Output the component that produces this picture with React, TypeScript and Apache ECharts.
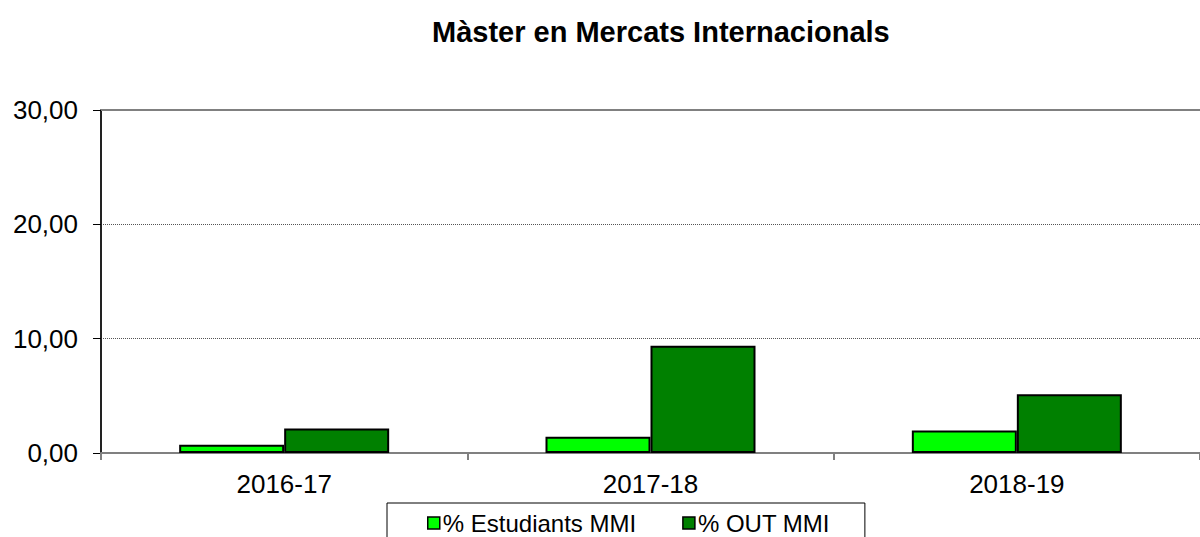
import React, { useEffect, useRef } from "react";
import * as echarts from "echarts";

const categories = ["2016-17", "2017-18", "2018-19"];
const estudiants = [0.72, 1.42, 1.97];
const outMmi = [2.15, 9.38, 5.14];
const seriesNames = ["% Estudiants MMI", "% OUT MMI"];
const titleText = "Màster en Mercats Internacionals";

export default function App() {
  const ref = useRef<HTMLDivElement>(null);
  useEffect(() => {
    if (!ref.current) return;
    const chart = echarts.init(ref.current, null, { renderer: "svg" });
    const font = "'Liberation Sans', Arial, sans-serif";
    chart.setOption({
      animation: false,
      backgroundColor: "#ffffff",
      title: {
        text: titleText,
        left: 432,
        top: 17,
        padding: 0,
        textStyle: { fontFamily: font, fontSize: 29, fontWeight: "bold", color: "#000" },
      },
      legend: {
        data: seriesNames,
        left: 387,
        top: 503,
        padding: [8, 35, 30, 40],
        borderColor: "#000",
        borderWidth: 1,
        itemGap: 46,
        itemWidth: 12,
        itemHeight: 12,
        icon: "rect",
        itemStyle: { borderColor: "#000", borderWidth: 1.5 },
        textStyle: { fontFamily: font, fontSize: 24, color: "#000", padding: [0, 0, 0, -2] },
      },
      grid: { left: 101, right: 0, top: 110, bottom: 84, containLabel: false },
      xAxis: [
        {
          type: "category",
          data: categories,
          axisLine: { lineStyle: { color: "#808080", width: 2 } },
          axisTick: { show: true, length: 7, lineStyle: { color: "#808080", width: 2 } },
          axisLabel: { fontFamily: font, fontSize: 26, color: "#000", margin: 18 },
        },
        {
          type: "category",
          data: categories,
          position: "top",
          axisLine: { lineStyle: { color: "#808080", width: 2 } },
          axisTick: { show: false },
          axisLabel: { show: false },
        },
      ],
      yAxis: {
        type: "value",
        min: 0,
        max: 30,
        interval: 10,
        axisLine: { show: true, lineStyle: { color: "#222", width: 2 } },
        axisTick: { show: true, length: 8, lineStyle: { color: "#000", width: 1 } },
        axisLabel: {
          fontFamily: font,
          fontSize: 26,
          color: "#000",
          margin: 23,
          formatter: (v: number) => v.toFixed(2).replace(".", ","),
        },
        splitLine: { show: true, lineStyle: { color: "#555", type: [1, 1], width: 1 } },
      },
      series: [
        {
          name: seriesNames[0],
          type: "bar",
          data: estudiants,
          barWidth: 105,
          barGap: "0%",
          itemStyle: { color: "#00ff00", borderColor: "#000", borderWidth: 2 },
        },
        {
          name: seriesNames[1],
          type: "bar",
          data: outMmi,
          barWidth: 105,
          barGap: "0%",
          itemStyle: { color: "#008000", borderColor: "#000", borderWidth: 2 },
        },
      ],
    });
    return () => chart.dispose();
  }, []);
  return (
    <div
      ref={ref}
      style={{ position: "fixed", left: 0, top: 0, width: 1200, height: 537, background: "#fff" }}
    />
  );
}
